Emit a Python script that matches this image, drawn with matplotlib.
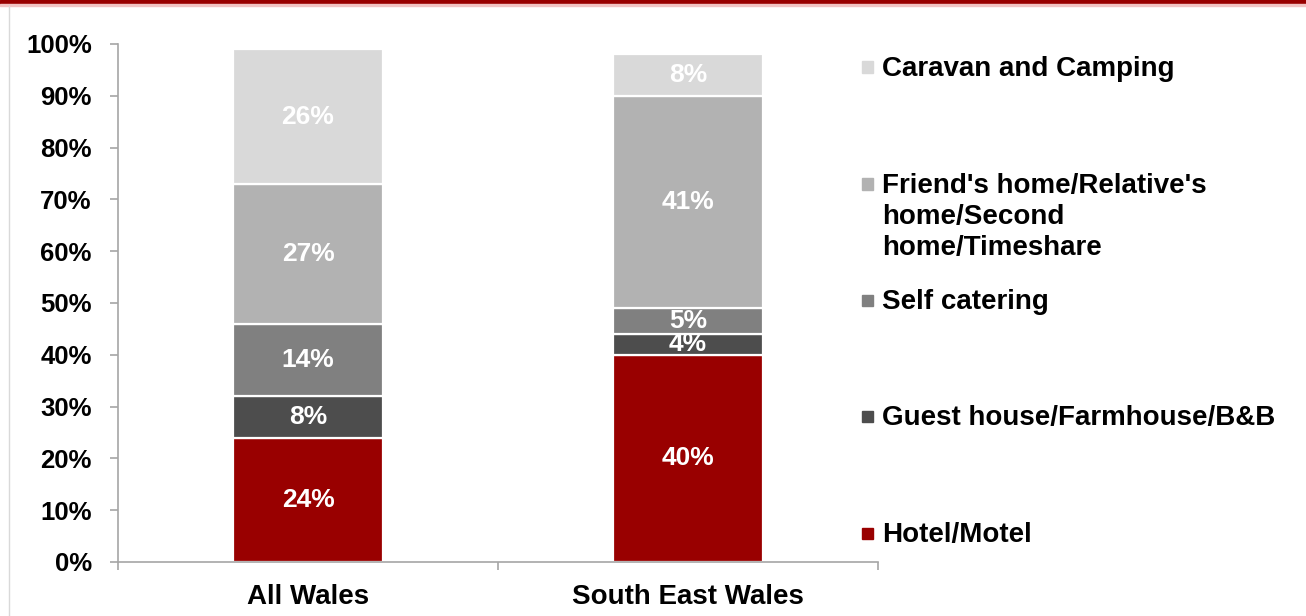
import numpy as np
import matplotlib.pyplot as plt
from matplotlib.patches import Rectangle

plt.rcParams['font.family'] = ['Liberation Sans', 'DejaVu Sans']
plt.rcParams['font.weight'] = 'bold'

# 住宿类型占比（%）
regions = ['All Wales', 'South East Wales']
series_names = ['Hotel/Motel',
                'Guest house/Farmhouse/B&B',
                'Self catering',
                "Friend's home/Relative's\nhome/Second\nhome/Timeshare",
                'Caravan and Camping']
hotel = [24, 40]
guest_house = [8, 4]
self_catering = [14, 5]
friends_home = [27, 41]
caravan = [26, 8]
colors = ['#990000', '#4d4d4d', '#808080', '#b2b2b2', '#d9d9d9']

values = [hotel, guest_house, self_catering, friends_home, caravan]

fig = plt.figure(figsize=(13.06, 6.16), dpi=100)
ax = fig.add_axes([0.0904, 0.0877, 0.5819, 0.8409])

x = np.arange(len(regions))
bottom = np.zeros(len(regions))
for vals, col in zip(values, colors):
    vals = np.array(vals, dtype=float)
    ax.bar(x, vals, width=0.395, bottom=bottom, color=col,
           edgecolor='white', linewidth=1.6)
    for xi, b, v in zip(x, bottom, vals):
        ax.text(xi, b + v / 2, f'{v:.0f}%', ha='center', va='center',
                color='white', fontsize=19, fontweight='bold')
    bottom += vals

# 坐标轴
ax.set_xlim(-0.5, 1.5)
ax.set_ylim(0, 100)
ax.set_yticks(np.arange(0, 101, 10))
ax.set_yticklabels([f'{t}%' for t in range(0, 101, 10)])
ax.set_xticks(x)
ax.set_xticklabels(regions)
ax.set_xticks([-0.5, 0.5, 1.5], minor=True)
for s in ['top', 'right']:
    ax.spines[s].set_visible(False)
for s in ['left', 'bottom']:
    ax.spines[s].set_color('#a6a6a6')
    ax.spines[s].set_linewidth(1.2)
ax.tick_params(axis='y', length=6, width=1.2, color='#a6a6a6', pad=13,
               labelsize=18.5)
ax.tick_params(axis='x', which='major', length=0, pad=16, labelsize=20)
ax.tick_params(axis='x', which='minor', length=6, width=1.2, color='#a6a6a6')

# 图例（从上到下）
legend_y = [67, 184, 300, 416, 533]
for name, col, ypx in zip(series_names[::-1], colors[::-1], legend_y):
    yf = 1 - ypx / 616
    fig.add_artist(Rectangle((862 / 1306, yf - 5.5 / 616), 11 / 1306, 11 / 616,
                             transform=fig.transFigure, color=col))
    for i, line in enumerate(name.split('\n')):
        fig.text(882 / 1306, yf - (i * 31 + 2) / 616, line, ha='left',
                 va='center', fontsize=20, fontweight='bold', color='black')

# 顶部红色横条和左侧边框
fig.add_artist(Rectangle((0, 1 - 4.5 / 616), 1, 4.5 / 616,
                         transform=fig.transFigure, color='#990000'))
fig.add_artist(Rectangle((0, 1 - 6 / 616), 1, 1.5 / 616,
                         transform=fig.transFigure, color='#f2c4c4'))
fig.add_artist(plt.Line2D([8.5 / 1306, 8.5 / 1306], [0, 1 - 6 / 616],
                          transform=fig.transFigure, color='#d9d9d9', lw=1))

fig.savefig('out.png', dpi=100)
